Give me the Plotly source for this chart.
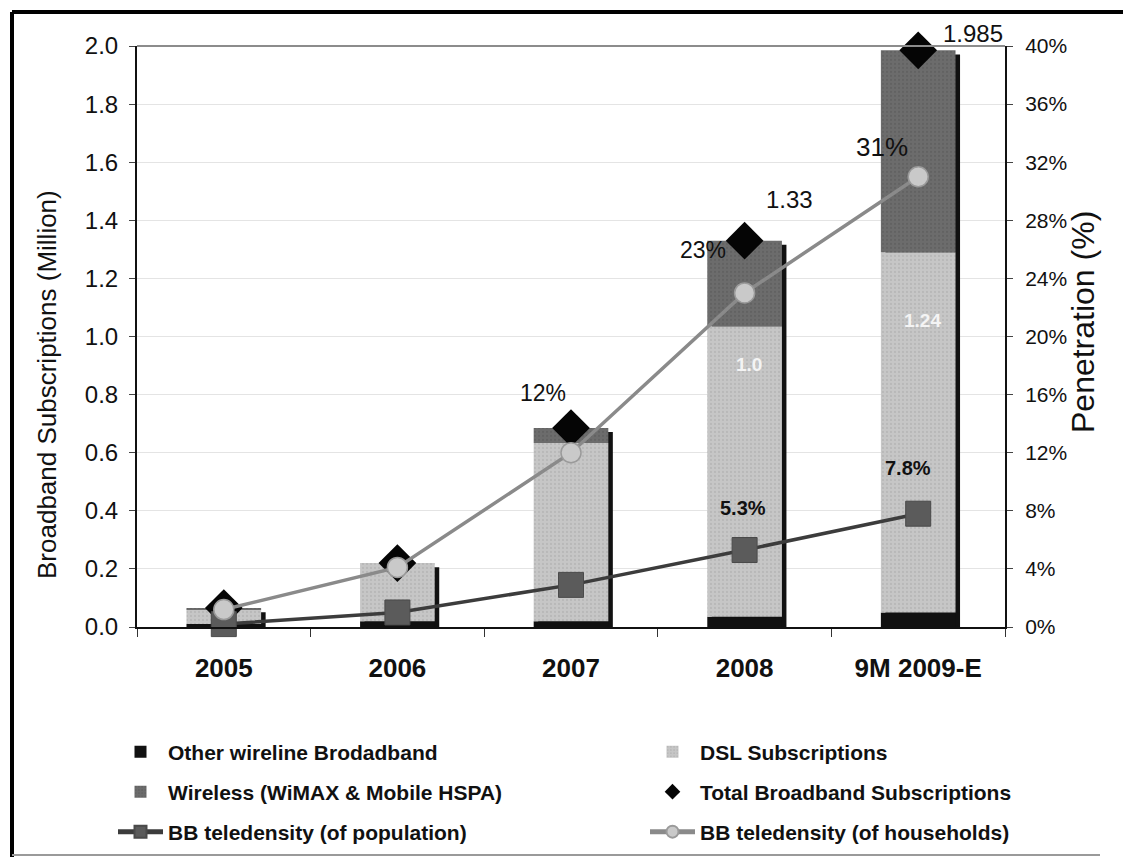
import plotly.graph_objects as go

# Broadband subscriptions by technology (million) and penetration (%)
years = ["2005", "2006", "2007", "2008", "9M 2009-E"]
other_wireline = [0.010, 0.020, 0.020, 0.035, 0.050]
dsl = [0.050, 0.200, 0.613, 1.000, 1.240]
wireless = [0.005, 0.000, 0.052, 0.295, 0.695]
total = [0.065, 0.220, 0.685, 1.330, 1.985]
teledensity_pop = [0.2, 1.0, 2.9, 5.3, 7.8]
teledensity_hh = [1.2, 4.1, 12.0, 23.0, 31.0]

FONT = "Liberation Sans, Arial, sans-serif"
BAR_W = 0.43

base_dsl = list(other_wireline)
base_wl = [o + d for o, d in zip(other_wireline, dsl)]
shadow = [t - 0.014 for t in total]

fig = go.Figure()

# dark drop shadow behind each stacked column
fig.add_trace(go.Bar(
    x=years, y=shadow, width=BAR_W, offset=-BAR_W / 2 + 0.026,
    marker=dict(color="#111111", line=dict(width=0)),
    showlegend=False, hoverinfo="skip",
))
fig.add_trace(go.Bar(
    x=years, y=other_wireline, width=BAR_W, offset=-BAR_W / 2,
    name="Other wireline Brodadband", legend="legend",
    marker=dict(color="#111111", line=dict(width=0)),
))
fig.add_trace(go.Bar(
    x=years, y=dsl, base=base_dsl, width=BAR_W, offset=-BAR_W / 2,
    name="DSL Subscriptions", legend="legend2",
    marker=dict(color="#c6c6c6", line=dict(width=0),
                pattern=dict(shape=".", fgcolor="#a9a9a9", size=4, solidity=0.25)),
))
fig.add_trace(go.Bar(
    x=years, y=wireless, base=base_wl, width=BAR_W, offset=-BAR_W / 2,
    name="Wireless (WiMAX & Mobile HSPA)", legend="legend3",
    marker=dict(color="#6c6c6c", line=dict(width=0),
                pattern=dict(shape=".", fgcolor="#575757", size=4, solidity=0.25)),
))
fig.add_trace(go.Scatter(
    x=years, y=total, mode="markers", cliponaxis=False,
    name="Total Broadband Subscriptions", legend="legend4",
    marker=dict(symbol="diamond", size=29, color="#050505"),
))
fig.add_trace(go.Scatter(
    x=years, y=teledensity_pop, yaxis="y2", mode="lines+markers", cliponaxis=False,
    name="BB teledensity (of population)", legend="legend5",
    line=dict(color="#3c3c3c", width=3.5),
    marker=dict(symbol="square", size=25, color="#5b5b5b",
                line=dict(color="#4a4a4a", width=1)),
))
fig.add_trace(go.Scatter(
    x=years, y=teledensity_hh, yaxis="y2", mode="lines+markers", cliponaxis=False,
    name="BB teledensity (of households)", legend="legend6",
    line=dict(color="#8a8a8a", width=3.5),
    marker=dict(symbol="circle", size=20, color="#c9c9c9",
                line=dict(color="#9a9a9a", width=1.5)),
))

# value call-outs
ann = [
    dict(i=4, y=total[4], yref="y", text="1.985", xshift=55, yshift=17, size=24),
    dict(i=3, y=total[3], yref="y", text="1.33", xshift=45, yshift=41, size=24),
    dict(i=3, y=teledensity_hh[3], yref="y2", text="23%", xshift=-42, yshift=43, size=23),
    dict(i=2, y=teledensity_hh[2], yref="y2", text="12%", xshift=-28, yshift=60, size=23),
    dict(i=4, y=teledensity_hh[4], yref="y2", text="31%", xshift=-36, yshift=30, size=26),
    dict(i=3, y=teledensity_pop[3], yref="y2", text="<b>5.3%</b>", xshift=-2, yshift=42, size=20),
    dict(i=4, y=teledensity_pop[4], yref="y2", text="<b>7.8%</b>", xshift=-10, yshift=46, size=20),
]
annotations = []
for a in ann:
    annotations.append(dict(
        x=a["i"], y=a["y"], xref="x", yref=a["yref"], text=a["text"],
        showarrow=False, xshift=a["xshift"], yshift=a["yshift"],
        font=dict(family=FONT, size=a["size"], color="#111111"),
    ))
# DSL values written inside the columns
for i, shift in ((3, -38), (4, -68)):
    annotations.append(dict(
        x=i, y=base_wl[i], xref="x", yref="y",
        text="<b>%s</b>" % ("1.0" if dsl[i] == 1.0 else "%g" % dsl[i]),
        showarrow=False, xshift=4, yshift=shift,
        font=dict(family=FONT, size=19, color="#f4f4f4"),
    ))
# axis titles
annotations.append(dict(
    x=30 / 1123, y=1 - 385 / 857, xref="paper", yref="paper",
    text="Broadband Subscriptions (Million)", textangle=-90, showarrow=False,
    font=dict(family=FONT, size=26, color="#111111"),
))
annotations.append(dict(
    x=1103 / 1123, y=1 - 322 / 857, xref="paper", yref="paper",
    text="Penetration (%)", textangle=-90, showarrow=False,
    font=dict(family=FONT, size=32, color="#111111"),
))

# two-column key below the plot, one legend box per entry
legend_common = dict(
    orientation="h", xanchor="left", yanchor="middle",
    bgcolor="rgba(0,0,0,0)",
    font=dict(family=FONT, size=21, color="#111111", weight="bold"),
    itemwidth=45, itemsizing="constant",
)
col_x = [113 / 1123, 645 / 1123]
row_y = [1 - 752 / 857, 1 - 792 / 857, 1 - 832 / 857]
legend_boxes = {}
for k, name in enumerate(["legend", "legend2", "legend3", "legend4", "legend5", "legend6"]):
    legend_boxes[name] = dict(legend_common, x=col_x[k % 2], y=row_y[k // 2])

frame = [
    dict(type="line", xref="paper", yref="paper", x0=12 / 1123, x1=1.0,
         y0=1 - 12 / 857, y1=1 - 12 / 857, line=dict(color="#000000", width=4)),
    dict(type="line", xref="paper", yref="paper", x0=12 / 1123, x1=12 / 1123,
         y0=0, y1=1 - 12 / 857, line=dict(color="#000000", width=4)),
    dict(type="line", xref="paper", yref="paper", x0=12 / 1123, x1=1100 / 1123,
         y0=2 / 857, y1=2 / 857, line=dict(color="#9a9a9a", width=2)),
]

fig.update_layout(
    width=1123, height=857,
    margin=dict(l=0, r=0, t=0, b=0, autoexpand=False),
    paper_bgcolor="white", plot_bgcolor="white",
    barmode="overlay",
    font=dict(family=FONT, color="#111111"),
    xaxis=dict(
        domain=[137 / 1123, 1005 / 1123],
        type="category", categoryorder="array", categoryarray=years,
        range=[-0.5, len(years) - 0.5],
        showline=True, linecolor="#111111", linewidth=2,
        ticks="outside", ticklen=8, tickcolor="#333333", showgrid=False,
        tickson="boundaries", ticklabelstandoff=17,
        tickfont=dict(family=FONT, size=26, color="#111111", weight="bold"),
    ),
    yaxis=dict(
        domain=[1 - 627 / 857, 1 - 46 / 857],
        range=[0, 2.0], dtick=0.2, tickformat=".1f",
        showline=True, linecolor="#111111", linewidth=2,
        ticks="outside", ticklen=6, tickcolor="#444444",
        showgrid=True, gridcolor="#e4e4e4", gridwidth=1, zeroline=False,
        tickfont=dict(family=FONT, size=24, color="#111111"),
        ticklabelstandoff=6,
    ),
    yaxis2=dict(
        overlaying="y", side="right", anchor="x",
        range=[0, 40], dtick=4, ticksuffix="%",
        showline=True, linecolor="#111111", linewidth=2,
        ticks="outside", ticklen=6, tickcolor="#444444",
        showgrid=False, zeroline=False,
        tickfont=dict(family=FONT, size=21, color="#111111"),
        ticklabelstandoff=8,
    ),
    annotations=annotations,
    shapes=frame + [
        dict(type="line", xref="x domain", yref="y domain", x0=0, x1=1, y0=1, y1=1,
             line=dict(color="#8c8c8c", width=2)),
    ],
    **legend_boxes,
)

fig.write_html("out.html")
